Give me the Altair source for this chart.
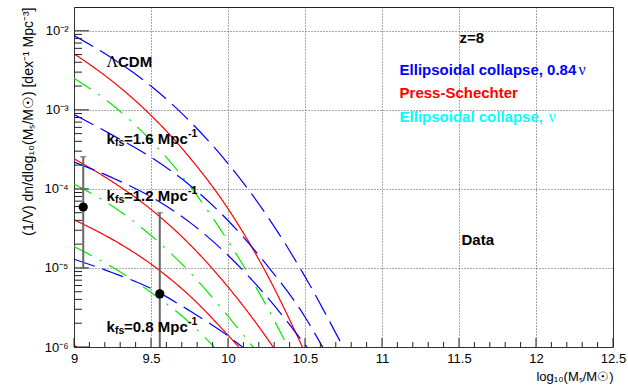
import altair as alt
import pandas as pd

SANS = "Liberation Sans"
SERIF = "Liberation Serif"

# Stellar-mass function at z=8: log10(M_s/M_sun) grid and number densities
# LCDM
lcdm_ell084_x = [9.0, 9.25, 9.5, 9.75, 10.0, 10.25, 10.5, 10.75]
lcdm_ell084_y = [8.71e-3, 4.47e-3, 2.00e-3, 7.24e-4, 2.09e-4, 4.68e-5, 7.76e-6, 9.77e-7]
lcdm_ps_x = [9.0, 9.25, 9.5, 9.75, 10.0, 10.25, 10.5]
lcdm_ps_y = [5.13e-3, 2.29e-3, 8.51e-4, 2.51e-4, 5.62e-5, 8.51e-6, 8.51e-7]
lcdm_ell_x = [9.0, 9.25, 9.5, 9.75, 10.0, 10.25, 10.4]
lcdm_ell_y = [2.51e-3, 1.15e-3, 4.07e-4, 1.10e-4, 2.19e-5, 3.31e-6, 9.12e-7]
# k_fs = 1.6 Mpc^-1
k16_ell084_x = [9.0, 9.25, 9.5, 9.75, 10.0, 10.25, 10.5, 10.62]
k16_ell084_y = [8.71e-4, 4.79e-4, 2.51e-4, 1.12e-4, 3.98e-5, 1.10e-5, 2.40e-6, 9.55e-7]
k16_ps_x = [9.0, 9.25, 9.5, 9.75, 10.0, 10.25, 10.3]
k16_ps_y = [2.40e-4, 1.23e-4, 5.50e-5, 2.00e-5, 5.75e-6, 1.32e-6, 9.55e-7]
k16_ell_x = [9.0, 9.25, 9.5, 9.75, 10.0, 10.17]
k16_ell_y = [1.15e-4, 6.03e-5, 2.57e-5, 8.91e-6, 2.45e-6, 9.55e-7]
# k_fs = 1.2 Mpc^-1
k12_ell084_x = [9.0, 9.25, 9.5, 9.75, 10.0, 10.25, 10.52]
k12_ell084_y = [2.19e-4, 1.38e-4, 7.94e-5, 3.80e-5, 1.45e-5, 4.37e-6, 9.55e-7]
k12_ps_x = [9.0, 9.25, 9.5, 9.75, 10.0, 10.07]
k12_ps_y = [4.07e-5, 2.29e-5, 1.12e-5, 4.47e-6, 1.41e-6, 1.0e-6]
k12_ell_x = [9.0, 9.25, 9.5, 9.75, 9.92]
k12_ell_y = [1.86e-5, 1.02e-5, 4.90e-6, 2.04e-6, 9.55e-7]
# k_fs = 0.8 Mpc^-1
k08_ell084_x = [9.0, 9.25, 9.5, 9.75, 10.0, 10.1]
k08_ell084_y = [1.29e-5, 8.71e-6, 5.50e-6, 2.88e-6, 1.38e-6, 9.77e-7]
k08_ps_x = [9.0, 9.1]
k08_ps_y = [1.07e-6, 7.08e-7]

# Observed points with error bars
obs_x = [9.06, 9.557]
obs_y = [5.9e-5, 4.7e-6]
obs_lo = [1.0e-5, 1.0e-7]
obs_hi = [2.55e-4, 5.0e-5]

# Axis ticks
x_major = [9, 9.5, 10, 10.5, 11, 11.5, 12, 12.5]
x_minor = [9.1, 9.2, 9.3, 9.4, 9.6, 9.7, 9.8, 9.9, 10.1, 10.2, 10.3, 10.4,
           10.6, 10.7, 10.8, 10.9, 11.1, 11.2, 11.3, 11.4, 11.6, 11.7, 11.8, 11.9,
           12.1, 12.2, 12.3, 12.4]
y_major = [1e-6, 1e-5, 1e-4, 1e-3, 1e-2]
y_major_text = ["10⁻⁶", "10⁻⁵", "10⁻⁴", "10⁻³", "10⁻²"]
y_minor = [m * d for d in [1e-6, 1e-5, 1e-4, 1e-3, 1e-2] for m in range(2, 10) if m * d < 2e-2]

# Annotation texts
kfs_values = ["=1.6 Mpc", "=1.2 Mpc", "=0.8 Mpc"]
kfs_x = [9.211, 9.211, 9.211]
kfs_y = [4.30e-4, 8.14e-5, 1.79e-6]

series = [
    ("lcdm", "ell084", lcdm_ell084_x, lcdm_ell084_y),
    ("lcdm", "ps", lcdm_ps_x, lcdm_ps_y),
    ("lcdm", "ell", lcdm_ell_x, lcdm_ell_y),
    ("k16", "ell084", k16_ell084_x, k16_ell084_y),
    ("k16", "ps", k16_ps_x, k16_ps_y),
    ("k16", "ell", k16_ell_x, k16_ell_y),
    ("k12", "ell084", k12_ell084_x, k12_ell084_y),
    ("k12", "ps", k12_ps_x, k12_ps_y),
    ("k12", "ell", k12_ell_x, k12_ell_y),
    ("k08", "ell084", k08_ell084_x, k08_ell084_y),
    ("k08", "ps", k08_ps_x, k08_ps_y),
]
curves = pd.DataFrame(
    [{"grp": g + "_" + m, "model": m, "x": x, "y": y}
     for g, m, xs, ys in series for x, y in zip(xs, ys)]
)
obs = pd.DataFrame({"x": obs_x, "y": obs_y, "lo": obs_lo, "hi": obs_hi})

W, H = 539, 340
x_scale = alt.Scale(domain=[9, 12.5], nice=False, zero=False)
y_scale = alt.Scale(type="log", domain=[1e-6, 2e-2], nice=False)

label_expr = ""
for v, t in zip(y_major, y_major_text):
    label_expr += f"datum.value < {v * 3:g} ? '{t}' : "
label_expr += "''"

TICK = "#222222"
GRID = "#555555"

# Model curves with the labelled, gridded axes
lines = alt.Chart(curves).mark_line(clip=True, interpolate="monotone", strokeWidth=1.2).encode(
    x=alt.X("x:Q", scale=x_scale, axis=alt.Axis(
        values=x_major, format="~g", orient="bottom", ticks=False, domain=False,
        grid=True, gridColor=GRID, gridDash=[1, 2], gridWidth=1,
        labelFont=SANS, labelFontSize=13, labelColor="black", labelPadding=5,
        labelFlush=False, labelOverlap=False,
        title="log₁₀(Mₛ/M☉)", titleFont=SANS, titleFontSize=13,
        titleFontWeight="normal", titleColor="black", titleAnchor="end",
        titlePadding=5)),
    y=alt.Y("y:Q", scale=y_scale, axis=alt.Axis(
        values=y_major, labelExpr=label_expr, orient="left", ticks=False, domain=False,
        grid=True, gridColor=GRID, gridDash=[1, 2], gridWidth=1,
        labelFont=SANS, labelFontSize=13, labelColor="black", labelPadding=6,
        labelFlush=False, labelOverlap=False,
        title="(1/V) dn/dlog₁₀(Mₛ/M☉)  [dex⁻¹ Mpc⁻³]", titleFont=SANS,
        titleFontSize=14, titleFontWeight="normal", titleColor="black",
        titleAnchor="end", titlePadding=8)),
    color=alt.Color("model:N", scale=alt.Scale(
        domain=["ell084", "ps", "ell"], range=["#0000ff", "#ff0000", "#00ee00"]), legend=None),
    strokeDash=alt.StrokeDash("model:N", scale=alt.Scale(
        domain=["ell084", "ps", "ell"], range=[[22, 8], [1, 0], [20, 9, 2, 9]]), legend=None),
    detail="grp:N",
)


# Inward-pointing tick marks along the bottom and left frame edges
def x_ticks(vals, length):
    return alt.Chart(pd.DataFrame({"v": vals})).mark_rule(color=TICK, strokeWidth=1).encode(
        x=alt.X("v:Q", scale=x_scale, axis=None),
        y=alt.value(H), y2=alt.value(H - length),
    )


def y_ticks(vals, length):
    return alt.Chart(pd.DataFrame({"v": vals})).mark_rule(color=TICK, strokeWidth=1).encode(
        y=alt.Y("v:Q", scale=y_scale, axis=None),
        x=alt.value(0), x2=alt.value(length),
    )


ticks = [x_ticks(x_major, 9), x_ticks(x_minor, 5), y_ticks(y_major, 15), y_ticks(y_minor, 8)]

# Error bars, caps and data points
bars = alt.Chart(obs).mark_rule(clip=True, color="#666666", strokeWidth=2).encode(
    x=alt.X("x:Q", scale=x_scale, axis=None),
    y=alt.Y("lo:Q", scale=y_scale, axis=None),
    y2="hi:Q",
)
caps_lo = alt.Chart(obs).mark_tick(clip=True, orient="horizontal", size=6, thickness=1.5,
                                   color="#666666").encode(
    x=alt.X("x:Q", scale=x_scale, axis=None),
    y=alt.Y("lo:Q", scale=y_scale, axis=None),
)
caps_hi = alt.Chart(obs).mark_tick(clip=True, orient="horizontal", size=6, thickness=1.5,
                                   color="#666666").encode(
    x=alt.X("x:Q", scale=x_scale, axis=None),
    y=alt.Y("hi:Q", scale=y_scale, axis=None),
)
points = alt.Chart(obs).mark_point(filled=True, shape="circle", size=85, color="black",
                                   opacity=1, clip=True).encode(
    x=alt.X("x:Q", scale=x_scale, axis=None),
    y=alt.Y("y:Q", scale=y_scale, axis=None),
)


def text(df, color="black", size=15, weight="bold", font=SANS, dx=0, dy=0):
    return alt.Chart(df).mark_text(
        align="left", baseline="middle", font=font, fontSize=size, fontWeight=weight,
        color=color, dx=dx, dy=dy).encode(
        x=alt.X("x:Q", scale=x_scale, axis=None),
        y=alt.Y("y:Q", scale=y_scale, axis=None),
        text="t:N",
    )


def one(t, x, y):
    return pd.DataFrame({"t": [t], "x": [x], "y": [y]})


kfs_k = pd.DataFrame({"t": ["k"] * 3, "x": kfs_x, "y": kfs_y})
kfs_sub = pd.DataFrame({"t": ["fs"] * 3, "x": kfs_x, "y": kfs_y})
kfs_val = pd.DataFrame({"t": kfs_values, "x": kfs_x, "y": kfs_y})
kfs_sup = pd.DataFrame({"t": ["-1"] * 3, "x": kfs_x, "y": kfs_y})

texts = [
    text(one("Λ", 9.211, 4.06e-3), size=16, weight="normal", font=SERIF),
    text(one("CDM", 9.211, 4.06e-3), dx=11.5),
    text(kfs_k),
    text(kfs_sub, size=10.5, dx=8.5, dy=4),
    text(kfs_val, dx=17.5),
    text(kfs_sup, size=10.5, dx=81.5, dy=-5),
    text(one("z=8", 11.503, 8.15e-3)),
    text(one("Ellipsoidal collapse, 0.84", 11.114, 3.2e-3), color="#0000ff"),
    text(one("ν", 11.114, 3.2e-3), color="#0000ff", size=16, weight="normal", font=SERIF, dx=179),
    text(one("Press-Schechter", 11.114, 1.64e-3), color="#ff0000"),
    text(one("Ellipsoidal collapse, ", 11.114, 8.15e-4), color="#00ffff"),
    text(one("ν", 11.114, 8.15e-4), color="#00ffff", size=16, weight="normal", font=SERIF, dx=149),
    text(one("Data", 11.516, 2.26e-5)),
]

chart = alt.layer(lines, *ticks, bars, caps_lo, caps_hi, points, *texts).resolve_axis(
    x="independent", y="independent"
).properties(
    width=W, height=H,
    padding={"left": 74, "top": 7, "right": 15, "bottom": 42},
    autosize=alt.AutoSizeParams(type="none"),
    background="white",
).configure_view(stroke="#222222", strokeWidth=1)

chart.save("out.html", embed_options={"renderer": "svg", "actions": False})
